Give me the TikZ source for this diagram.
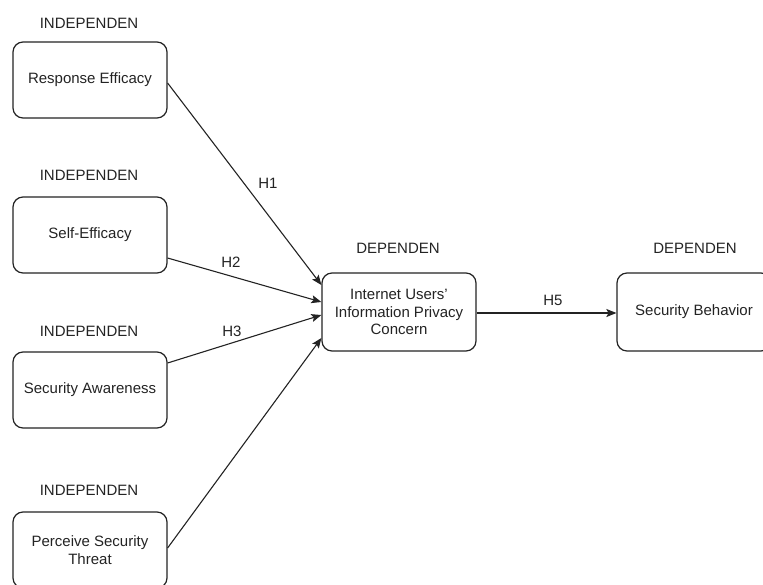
\documentclass[tikz,border=0pt]{standalone}
\usepackage{fontspec}
\setmainfont{Liberation Sans}
\usetikzlibrary{arrows.meta}
\definecolor{ink}{RGB}{35,35,35}
\begin{document}
\begin{tikzpicture}[x=1pt,y=-1pt,
  every node/.style={font=\fontsize{15}{17.5}\selectfont, text=ink},
  varbox/.style={draw=ink, line width=1.2pt, rounded corners=10pt, minimum width=154pt, minimum height=76pt, align=center, inner sep=2pt},
  lbl/.style={inner sep=0pt},
  conn/.style={draw=ink, line width=1.1pt, -{Stealth[length=10pt,width=8pt,inset=2pt]}}]
\useasboundingbox (0,0) rectangle (763,584);
% independent variables
\node[varbox] (re) at (90,80) {Response Efficacy};
\node[varbox] (se) at (90,235) {Self-Efficacy};
\node[varbox] (sa) at (90,390) {Security Awareness};
\node[varbox] (pt) at (90,550) {Perceive Security\\Threat};
\node[lbl] (l1) at (89,23) {INDEPENDEN};
\node[lbl] (l2) at (89,175) {INDEPENDEN};
\node[lbl] (l3) at (89,331) {INDEPENDEN};
\node[lbl] (l4) at (89,490) {INDEPENDEN};
% dependent variables
\node[varbox, minimum height=78pt] (ic) at (399,312) {Internet Users'\\Information Privacy\\Concern};
\node[varbox, minimum height=78pt] (sb) at (694,312) {Security Behavior};
\node[lbl] (l5) at (398,248) {DEPENDEN};
\node[lbl] (l6) at (695,248) {DEPENDEN};
% connectors
\draw[conn] ([yshift=-3pt]re.east) -- ([yshift=27pt]ic.west);
\draw[conn] ([yshift=-23pt]se.east) -- ([yshift=10pt]ic.west);
\draw[conn] ([yshift=27pt]sa.east) -- ([yshift=-3pt]ic.west);
\draw[conn] ([yshift=2pt]pt.east) -- ([yshift=-26pt]ic.west);
\draw[conn] ([yshift=-1pt]ic.east) -- ([yshift=-1pt]sb.west);
% hypothesis labels
\node[lbl] (h1) at (268,183) {H1};
\node[lbl] (h2) at (231,262) {H2};
\node[lbl] (h3) at (232,331) {H3};
\node[lbl] (h5) at (553,300) {H5};
\end{tikzpicture}
\end{document}
